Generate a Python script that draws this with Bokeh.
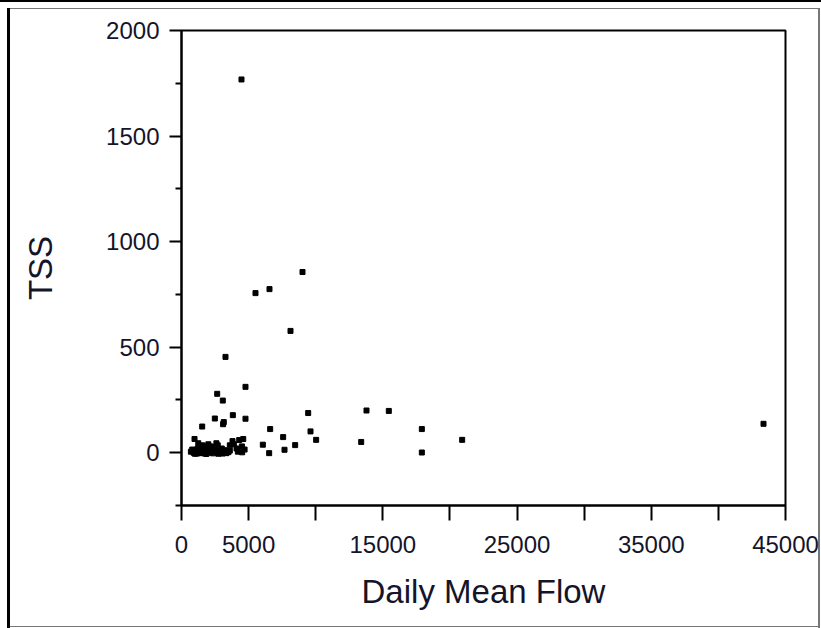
from bokeh.plotting import figure
from bokeh.models import Range1d, FixedTicker, ColumnDataSource
from bokeh.embed import file_html
from bokeh.resources import INLINE

# --- data (Daily Mean Flow vs TSS) ---
flow = [4470, 5513, 6556, 9015, 8121, 3278, 4768, 2660, 3077, 1542, 2484,
        3825, 3150, 3100, 4768, 9438, 13783, 15445, 17906, 17906, 20912,
        6606, 9611, 10032, 7573, 13388, 8468, 7674, 6531, 6060, 4520, 970,
        43362,
        700, 900, 1000, 1100, 1200, 1300, 1400, 1500, 1600, 1700, 1800, 1900,
        2000, 2100, 2200, 2300, 2400, 2500, 2600, 2700, 2800, 2900, 3000,
        3100, 3200, 3300, 3400, 3500, 3600, 1250, 1550, 2200, 2600, 800,
        1000, 1700, 2000, 3800, 3900, 4100, 4300, 4500, 4600, 4700, 3600,
        4200, 1150, 1450, 1850, 2350, 2750, 3050, 3350]
tss = [1768, 756, 775, 856, 577, 454, 312, 279, 247, 124, 162,
       178, 145, 135, 161, 188, 200, 198, 112, 1, 61,
       112, 101, 61, 74, 51, 36, 14, -2, 38, 2, 65,
       137,
       5, 0, 10, 3, 20, 8, 0, 15, 5, 30, 2, 12,
       40, 0, 8, 25, 5, 15, 3, 35, 10, 0, 20,
       5, 12, 2, 8, 3, 10, 45, 35, 30, 45, 15,
       -5, -3, 18, 55, 40, 20, 60, 30, 65, 15, 35,
       5, -4, -2, -6, -3, -5, -4, -2]

x_ticks = [0, 5000, 10000, 15000, 20000, 25000, 30000, 35000, 40000, 45000]
x_hidden = [10000, 20000, 30000, 40000]
y_ticks = [0, 500, 1000, 1500, 2000]
y_minor = [-250, 250, 750, 1250, 1750]

TXT = "#14142a"

p = figure(width=821, height=628, output_backend="svg", toolbar_location=None,
           x_range=Range1d(0, 45000), y_range=Range1d(-250, 2000),
           frame_width=604, frame_height=475,
           min_border_left=181, min_border_right=36,
           min_border_top=30, min_border_bottom=123)
p.background_fill_color = "white"
p.border_fill_alpha = 0
p.grid.visible = False
p.outline_line_color = "black"
p.outline_line_width = 2

# outer window frame (painted behind the transparent canvas border)
p.styles = {
    "background-color": "white",
    "background-image": ", ".join(["linear-gradient(#000,#000)"] * 2 +
                                  ["linear-gradient(#777,#777)"] * 3),
    "background-size": "821px 2px, 3px 620px, 811px 1px, 2px 620px, 811px 1px",
    "background-position": "0px 0px, 7px 8px, 8px 8px, 818px 8px, 8px 626px",
    "background-repeat": "no-repeat",
}

src = ColumnDataSource(dict(x=flow, y=tss))
p.scatter("x", "y", source=src, marker="square", size=5,
          fill_color="black", line_color="black")

xa = p.xaxis[0]
xa.ticker = FixedTicker(ticks=x_ticks)
xa.major_label_overrides = {t: "" for t in x_hidden}
xa.axis_label = "Daily Mean Flow"
xa.major_tick_out = 15
xa.major_tick_in = 0
xa.minor_tick_out = 0
xa.minor_tick_in = 0
xa.axis_line_width = 2
xa.major_tick_line_width = 2
xa.major_label_standoff = 15
xa.axis_label_standoff = 17

ya = p.yaxis[0]
ya.ticker = FixedTicker(ticks=y_ticks, minor_ticks=y_minor)
ya.axis_label = "TSS"
ya.major_tick_out = 12
ya.major_tick_in = 0
ya.minor_tick_out = 6
ya.minor_tick_in = 0
ya.axis_line_width = 2
ya.major_tick_line_width = 2
ya.minor_tick_line_width = 2
ya.major_label_standoff = 10
ya.axis_label_standoff = 44

for ax in (xa, ya):
    ax.major_label_text_font = "Liberation Sans"
    ax.major_label_text_font_size = "24px"
    ax.major_label_text_color = TXT
    ax.axis_label_text_font = "Liberation Sans"
    ax.axis_label_text_font_size = "33px"
    ax.axis_label_text_font_style = "normal"
    ax.axis_label_text_color = TXT
    ax.axis_line_color = "black"
    ax.major_tick_line_color = "black"
    ax.minor_tick_line_color = "black"

open("out.html", "w").write(file_html(p, INLINE))
